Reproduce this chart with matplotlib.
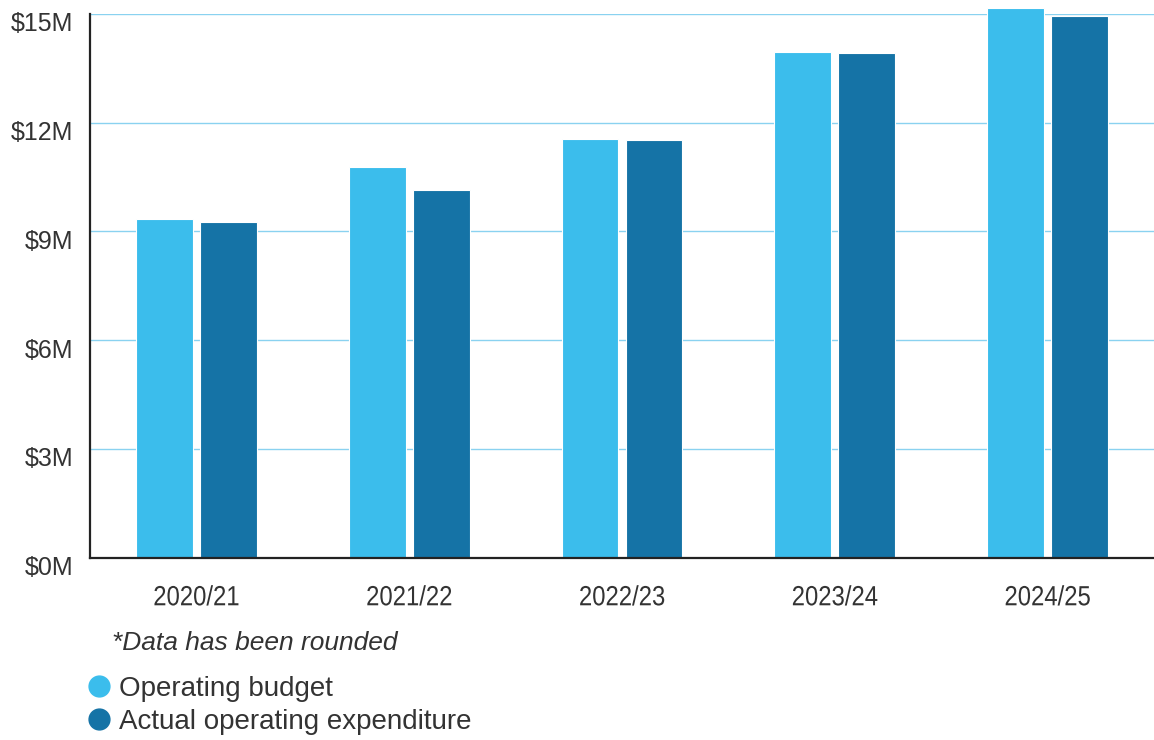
import matplotlib
matplotlib.use('Agg')
import matplotlib.pyplot as plt
import matplotlib.transforms as mtransforms
from matplotlib.patheffects import AbstractPathEffect
from matplotlib.lines import Line2D
import numpy as np

years = ['2020/21', '2021/22', '2022/23', '2023/24', '2024/25']
budget = [9.33, 10.79, 11.56, 13.95, 15.17]
actual = [9.27, 10.13, 11.52, 13.93, 14.95]
y_ticks = [0, 3, 6, 9, 12, 15]
y_labels = ['$0M', '$3M', '$6M', '$9M', '$12M', '$15M']

light_blue = '#3BBDEC'
dark_blue = '#1573A6'
grid_blue = '#8AD2F0'
text_grey = '#333333'


class SqueezeX(AbstractPathEffect):
    """Narrow the glyphs horizontally around the centre of the string."""

    def __init__(self, sx):
        super().__init__()
        self.sx = sx

    def draw_path(self, renderer, gc, tpath, affine, rgbFace=None):
        ext = tpath.get_extents()
        cx = (ext.x0 + ext.x1) / 2
        squeeze = mtransforms.Affine2D().translate(-cx, 0).scale(self.sx, 1).translate(cx, 0)
        renderer.draw_path(gc, tpath, squeeze + affine, rgbFace)


plt.rcParams['font.family'] = ['Liberation Sans', 'DejaVu Sans']

fig = plt.figure(figsize=(11.54, 7.4), dpi=100)
ax = fig.add_axes([0.078, 0.2466, 0.922, 0.7345])

x = np.arange(len(years))
w = 0.267
ax.bar(x - 0.15, budget, w, color=light_blue, edgecolor='white', linewidth=0.8,
       clip_on=False, zorder=3)
ax.bar(x + 0.15, actual, w, color=dark_blue, edgecolor='white', linewidth=0.8,
       clip_on=False, zorder=3)

ax.set_xlim(-0.5, len(years) - 0.5)
ax.set_ylim(0, 15)
ax.set_yticks(y_ticks)
ax.set_yticklabels(y_labels)
ax.set_xticks(x)
ax.set_xticklabels(years)
ax.yaxis.grid(True, color=grid_blue, linewidth=1.0, zorder=0)
ax.set_axisbelow(True)

for s in ['top', 'right']:
    ax.spines[s].set_visible(False)
for s in ['left', 'bottom']:
    ax.spines[s].set_color('#222222')
    ax.spines[s].set_linewidth(1.6)
    ax.spines[s].set_zorder(4)

ax.tick_params(axis='both', length=0, colors=text_grey)
ax.tick_params(axis='y', pad=12, labelsize=18)
ax.tick_params(axis='x', pad=20, labelsize=20)
shift = mtransforms.ScaledTranslation(0, -0.08, fig.dpi_scale_trans)
for lab in ax.get_yticklabels():
    lab.set_transform(lab.get_transform() + shift)
for lab in ax.get_xticklabels():
    lab.set_path_effects([SqueezeX(0.86)])

fig.text(0.097, 0.131, '*Data has been rounded', fontsize=19, style='italic',
         color=text_grey, va='center')

handles = [
    Line2D([], [], marker='o', linestyle='none', markersize=15,
           markerfacecolor=light_blue, markeredgecolor=light_blue),
    Line2D([], [], marker='o', linestyle='none', markersize=15,
           markerfacecolor=dark_blue, markeredgecolor=dark_blue),
]
fig.legend(handles, ['Operating budget', 'Actual operating expenditure'],
           loc='upper left', bbox_to_anchor=(0.0764, 0.087), frameon=False,
           fontsize=20, labelcolor=text_grey, handlelength=0.8, handletextpad=0.3,
           labelspacing=0.27, borderpad=0, borderaxespad=0)

fig.savefig('out.png', dpi=100)
